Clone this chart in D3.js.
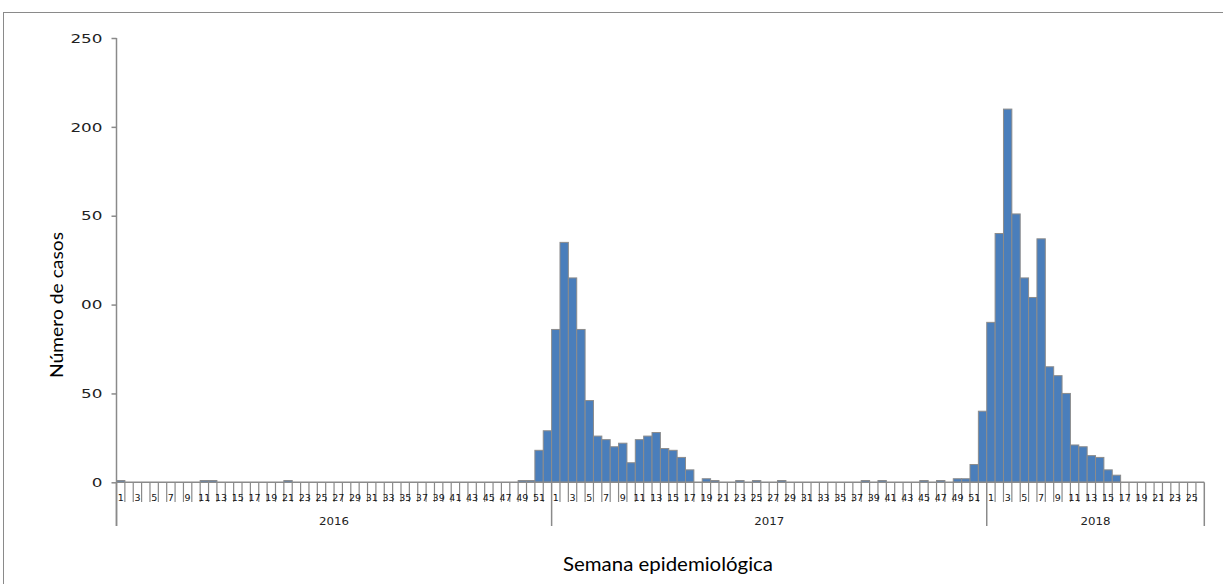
<!DOCTYPE html>
<html>
<head>
<meta charset="utf-8">
<script src="https://cdn.jsdelivr.net/npm/d3@7"></script>
<style>
  html, body { margin: 0; padding: 0; background: #fff; }
  svg { display: block; }
</style>
</head>
<body>
<svg id="chart" width="1223" height="584"></svg>
<script>
// ---- data ----
const years = ["2016", "2017", "2018"];
const weeksPerYear = [52, 52, 26];
const cases2016 = [1,0,0,0,0,0,0,0,0,0, 1,1,0,0,0,0,0,0,0,0, 1,0,0,0,0,0,0,0,0,0, 0,0,0,0,0,0,0,0,0,0, 0,0,0,0,0,0,0,0,1,1, 18,29];
const cases2017 = [86,135,115,86,46,26,24,20,22,11, 24,26,28,19,18,14,7,0,2,1, 0,0,1,0,1,0,0,1,0,0, 0,0,0,0,0,0,0,1,0,1, 0,0,0,0,1,0,1,0,2,2, 10,40];
const cases2018 = [90,140,210,151,115,104,137,65,60,50, 21,20,15,14,7,4,0,0,0,0, 0,0,0,0,0,0];
const yTickValues = [0, 50, 100, 150, 200, 250];
const yTickLabels = ["0", "50", "00", "50", "200", "250"];
const yTitle = "Número de casos";
const xTitle = "Semana epidemiológica";

// ---- build table ----
const seriesByYear = [cases2016, cases2017, cases2018];
const rows = [];
years.forEach((yr, i) => {
  for (let w = 1; w <= weeksPerYear[i]; w++) {
    rows.push({ key: yr + "-" + w, year: yr, week: w, value: seriesByYear[i][w - 1] });
  }
});

const svg = d3.select("#chart");
const axisColor = "#8a8a8a";
const tickFont = "'DejaVu Sans', Verdana, sans-serif";

// outer frame
svg.append("rect")
  .attr("x", 3.5).attr("y", 12.5)
  .attr("width", 1240).attr("height", 600)
  .attr("fill", "none").attr("stroke", "#8a8a8a").attr("stroke-width", 1);

const x = d3.scaleBand()
  .domain(rows.map(d => d.key))
  .range([116.5, 1204.3])
  .padding(0);

const y = d3.scaleLinear().domain([0, 250]).range([482.3, 38]);

// bars
svg.append("g").selectAll("rect")
  .data(rows)
  .join("rect")
  .attr("x", d => x(d.key))
  .attr("y", d => y(d.value))
  .attr("width", x.bandwidth())
  .attr("height", d => y(0) - y(d.value))
  .attr("fill", "#4a7ebb")
  .attr("stroke", "#8c8c8c")
  .attr("stroke-width", 1);

// y axis
const yAxis = d3.axisLeft(y)
  .tickValues(yTickValues)
  .tickFormat((d, i) => yTickLabels[i])
  .tickSize(5)
  .tickPadding(9);
const gy = svg.append("g").attr("transform", "translate(116.5,0)").call(yAxis);
gy.select(".domain").remove();
gy.selectAll(".tick line").attr("stroke", axisColor).attr("stroke-width", 1.5);
gy.selectAll(".tick text")
  .attr("fill", "#222")
  .style("font-family", tickFont)
  .style("font-size", "13px")
  .attr("textLength", function () { return this.textContent.length * 10.7; })
  .attr("lengthAdjust", "spacingAndGlyphs");
svg.append("line")
  .attr("x1", 116.5).attr("x2", 116.5)
  .attr("y1", y(250)).attr("y2", 526)
  .attr("stroke", axisColor).attr("stroke-width", 1.5);

// x axis line
svg.append("line")
  .attr("x1", 116.5).attr("x2", 1204.3)
  .attr("y1", y(0)).attr("y2", y(0))
  .attr("stroke", axisColor).attr("stroke-width", 1.5);

// category boundary ticks
const gx = svg.append("g");
const boundaries = [];
let cum = 0;
const yearStarts = [];
weeksPerYear.forEach(n => { yearStarts.push(cum); cum += n; });
rows.forEach((d, i) => { if (i > 0) boundaries.push({ i, key: d.key }); });
gx.selectAll("line.tk")
  .data(boundaries.filter(b => !yearStarts.includes(b.i)))
  .join("line")
  .attr("class", "tk")
  .attr("x1", b => x(b.key)).attr("x2", b => x(b.key))
  .attr("y1", y(0)).attr("y2", 502)
  .attr("stroke", axisColor).attr("stroke-width", 1.2);

// year separators
const sepX = yearStarts.map(s => x(rows[s].key)).concat([x.range()[1]]);
gx.selectAll("line.sep")
  .data(sepX)
  .join("line")
  .attr("class", "sep")
  .attr("x1", d => d).attr("x2", d => d)
  .attr("y1", y(0)).attr("y2", 526)
  .attr("stroke", axisColor).attr("stroke-width", 1.5);

// week labels (odd weeks)
gx.selectAll("text.wk")
  .data(rows.filter(d => d.week % 2 === 1))
  .join("text")
  .attr("class", "wk")
  .attr("x", d => x(d.key) + x.bandwidth() / 2)
  .attr("y", 501)
  .attr("text-anchor", "middle")
  .attr("fill", "#111")
  .style("font-family", tickFont)
  .style("font-size", "9.5px")
  .text(d => d.week);

// year labels
gx.selectAll("text.yr")
  .data(years)
  .join("text")
  .attr("class", "yr")
  .attr("x", (d, i) => (sepX[i] + sepX[i + 1]) / 2)
  .attr("y", 525)
  .attr("text-anchor", "middle")
  .attr("fill", "#222")
  .style("font-family", tickFont)
  .style("font-size", "10.5px")
  .attr("textLength", 30)
  .attr("lengthAdjust", "spacingAndGlyphs")
  .text(d => d);

// titles
svg.append("text")
  .attr("transform", "translate(63,305) rotate(-90)")
  .attr("text-anchor", "middle")
  .attr("fill", "#000")
  .style("font-family", "Lato, 'Open Sans', sans-serif")
  .style("font-size", "17px")
  .attr("textLength", 146)
  .attr("lengthAdjust", "spacingAndGlyphs")
  .text(yTitle);

svg.append("text")
  .attr("x", 668).attr("y", 571)
  .attr("text-anchor", "middle")
  .attr("fill", "#000")
  .style("font-family", "Lato, 'Open Sans', sans-serif")
  .style("font-size", "20px")
  .attr("textLength", 210)
  .attr("lengthAdjust", "spacingAndGlyphs")
  .text(xTitle);
</script>
</body>
</html>
